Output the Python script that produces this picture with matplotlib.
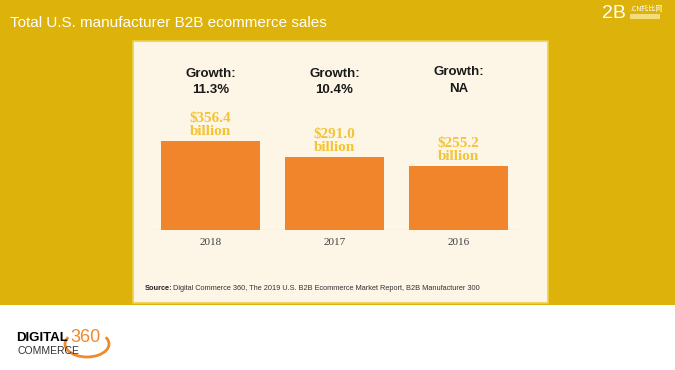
import matplotlib.pyplot as plt
from matplotlib.patches import Rectangle, Arc

years = ['2018', '2017', '2016']
sales = [356.4, 291.0, 255.2]
growth = ['11.3%', '10.4%', 'NA']

W, H = 675, 370
fig = plt.figure(figsize=(W / 100, H / 100), dpi=100)
fig.patch.set_facecolor('white')


def fx(px):
    return px / W


def fy(py):
    return 1 - py / H


# gold slide background and cream panel
fig.patches.append(Rectangle((0, fy(305)), 1, 1 - fy(305), transform=fig.transFigure,
                             facecolor='#DDB30B', edgecolor='none', zorder=-3))
fig.patches.append(Rectangle((fx(133), fy(303)), fx(548 - 133), fy(41) - fy(303),
                             transform=fig.transFigure, facecolor='#FDF6E7',
                             edgecolor='#EDCF4A', linewidth=1.2, zorder=-2))

fig.text(fx(10), fy(23), 'Total U.S. manufacturer B2B ecommerce sales', color='white',
         fontsize=11, family='Liberation Sans', va='center', ha='left')

# 2B logo top right
fig.text(fx(602), fy(14), '2B', color='white', fontsize=14, family='Liberation Sans',
         va='center', ha='left')
fig.text(fx(630), fy(9), '.CN托比网', color='white', fontsize=5,
         family=['Noto Sans CJK SC', 'DejaVu Sans'], va='center', ha='left')
fig.patches.append(Rectangle((fx(630), fy(19)), fx(30), fy(14) - fy(19), transform=fig.transFigure,
                             facecolor='#F3DC7A', edgecolor='none', zorder=-1))

# chart axes
ax = fig.add_axes([fx(148.5), fy(230), fx(520.5 - 148.5), fy(50) - fy(230)])
ax.set_facecolor('none')
x = range(len(years))
ax.bar(x, sales, width=0.8, color='#F0852B', zorder=2)
ax.set_xlim(-0.5, 2.5)
ax.set_ylim(0, 720)
for s in ax.spines.values():
    s.set_visible(False)
ax.set_yticks([])
ax.set_xticks(list(x))
ax.set_xticklabels(years, family='Liberation Serif', fontsize=8, color='#404040')
ax.tick_params(axis='x', length=0, pad=6)
ax.axhline(0, color='#EAE3D4', linewidth=1, zorder=1)

for i, (v, g) in enumerate(zip(sales, growth)):
    ax.annotate(f'${v:.1f}\nbillion', (i, v), xytext=(0, 2), textcoords='offset points',
                ha='center', va='bottom', family='Liberation Serif', fontweight='bold',
                fontsize=11, color='#F3C435', linespacing=1.0)
    ax.text(i, 592 + (6 if i == 2 else 0), f'Growth:\n{g}', ha='center', va='center',
            family='Liberation Sans', fontweight='bold', fontsize=9.5, color='#1a1a1a',
            linespacing=1.45)

# source
fig.text(fx(145), fy(288), 'Source:', fontsize=5.3, fontweight='bold', family='Liberation Sans',
         color='#222222', va='center', ha='left')
fig.text(fx(173), fy(288), 'Digital Commerce 360, The 2019 U.S. B2B Ecommerce Market Report, B2B Manufacturer 300',
         fontsize=5.3, family='Liberation Sans', color='#333333', va='center', ha='left')

# Digital Commerce 360 logo
fig.text(fx(16), fy(338), 'DIGITAL', fontsize=9.5, fontweight='bold', family='Liberation Sans',
         color='black', va='center', ha='left')
fig.text(fx(17), fy(351), 'COMMERCE', fontsize=7.5, family='Liberation Sans',
         color='#333333', va='center', ha='left')
fig.text(fx(70), fy(338), '360', fontsize=13, family='Liberation Sans',
         color='#EE8A2A', va='center', ha='left')
lax = fig.add_axes([fx(62), fy(362), fx(50), fy(326) - fy(362)])
lax.set_xlim(0, 50)
lax.set_ylim(0, 36)
lax.axis('off')
lax.add_patch(Arc((25, 18), 44, 26, theta1=160, theta2=20, color='#EE8A2A', linewidth=2))

fig.savefig('out.png', dpi=100)
